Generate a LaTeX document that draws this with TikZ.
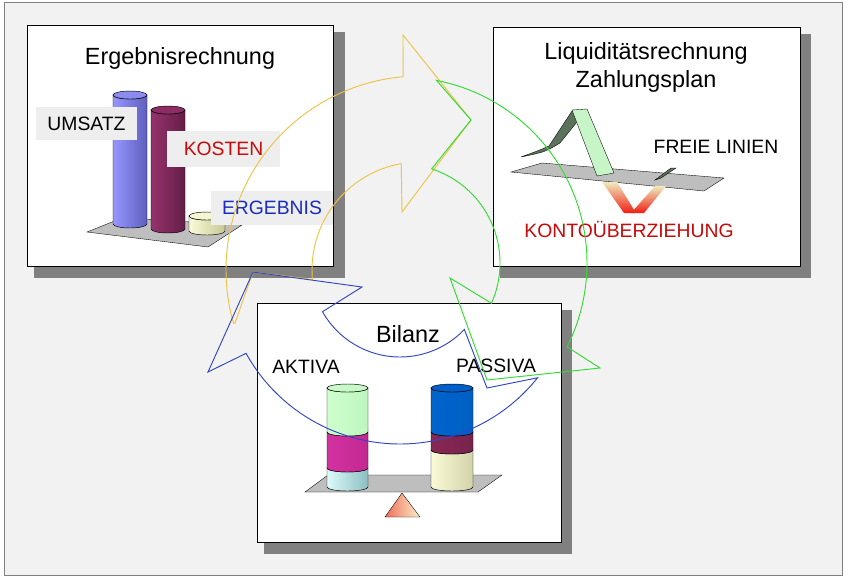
\documentclass[tikz,border=0pt]{standalone}
\usepackage{fontspec}
\setmainfont{Liberation Sans}
\definecolor{bg}{RGB}{242,242,242}
\definecolor{shad}{RGB}{128,128,128}
\definecolor{lbl}{RGB}{238,238,238}
\definecolor{kred}{RGB}{200,10,10}
\definecolor{eblue}{RGB}{25,45,190}
\definecolor{ayel}{RGB}{238,195,70}
\definecolor{agrn}{RGB}{50,220,50}
\definecolor{ablu}{RGB}{50,70,195}
\definecolor{floor}{RGB}{190,190,190}
\definecolor{c1l}{RGB}{150,150,255}\definecolor{c1r}{RGB}{95,95,190}\definecolor{c1t}{RGB}{140,140,240}
\definecolor{c2l}{RGB}{150,50,110}\definecolor{c2r}{RGB}{100,30,70}\definecolor{c2t}{RGB}{140,45,100}
\definecolor{c3l}{RGB}{250,250,215}\definecolor{c3r}{RGB}{200,200,150}\definecolor{c3t}{RGB}{245,245,210}
\definecolor{dgrn}{RGB}{90,115,90}\definecolor{lgrn}{RGB}{200,245,200}
\definecolor{vtop}{RGB}{240,235,190}\definecolor{vbot}{RGB}{240,30,20}
\definecolor{fl}{RGB}{240,110,90}\definecolor{fr}{RGB}{250,240,200}
\definecolor{a1l}{RGB}{220,250,250}\definecolor{a1r}{RGB}{140,190,195}
\definecolor{a2l}{RGB}{210,50,160}\definecolor{a2r}{RGB}{195,40,145}
\definecolor{a3l}{RGB}{205,255,205}\definecolor{a3r}{RGB}{190,245,190}\definecolor{a3t}{RGB}{200,250,200}
\definecolor{p1l}{RGB}{250,250,215}\definecolor{p1r}{RGB}{210,210,170}
\definecolor{p2l}{RGB}{135,40,85}\definecolor{p2r}{RGB}{120,35,75}
\definecolor{p3l}{RGB}{0,100,205}\definecolor{p3r}{RGB}{0,95,195}\definecolor{p3t}{RGB}{0,95,200}
\tikzset{
  panel/.style={draw=black,fill=white,line width=0.6pt},
  shadowbox/.style={fill=shad},
  title/.style={font=\fontsize{20}{24}\selectfont,align=center},
  lab/.style={font=\fontsize{16.5}{20}\selectfont},
  labbg/.style={lab,fill=lbl,inner sep=0pt},
  flr/.style={fill=floor,draw=black,line width=0.3pt},
  cyl/.style={draw=black,line width=0.4pt},
  arr/.style={line width=0.8pt,line join=miter},
}
\newcommand\cylseg[6]{% x1 x2 ytop ybot leftcolor rightcolor
  \path[cyl,left color=#5,right color=#6] (#1,#3) -- (#1,#4) arc[start angle=180,end angle=0,x radius={(#2-#1)/2},y radius=4] -- (#2,#3) arc[start angle=0,end angle=180,x radius={(#2-#1)/2},y radius=4] -- cycle;}
\newcommand\cyltop[4]{% x1 x2 y color
  \path[cyl,fill=#4] ({(#1+#2)/2},#3) ellipse[x radius={(#2-#1)/2},y radius=4];}
\begin{document}
\begin{tikzpicture}[x=0.03cm,y=-0.03cm]
\useasboundingbox (0,0) rectangle (848,578);
\fill[white] (0,0) rectangle (848,578);
\draw[fill=bg,draw=shad,line width=0.6pt] (4,2) rectangle (842,575);
% panels
\fill[shadowbox] (34,32) rectangle (345,278);
\draw[panel] (27,25) rectangle (333,266);
\fill[shadowbox] (500,34) rectangle (811,278);
\draw[panel] (493,27) rectangle (800,266);
\fill[shadowbox] (264,310) rectangle (572,554);
\draw[panel] (257,303) rectangle (561,542);
% titles
\node[title] (t1) at (180,58) {Ergebnisrechnung};
\node[title] (t2) at (646,67) {Liquiditätsrechnung\\Zahlungsplan};
\node[title] (t3) at (408,334) {Bilanz};
% chart 1
\path[flr] (87,232) -- (122,218) -- (242,225) -- (208,247) -- cycle;
\cylseg{113}{147}{95}{224}{c1l}{c1r}
\cyltop{113}{147}{95}{c1t}
\cylseg{151}{185}{110}{229}{c2l}{c2r}
\cyltop{151}{185}{110}{c2t}
\cylseg{189}{225}{216}{231}{c3l}{c3r}
\cyltop{189}{225}{216}{c3t}
\node[labbg,minimum width=3.03cm,minimum height=0.99cm] (umsatz) at (86.5,123.5) {UMSATZ};
\node[labbg,minimum width=3.39cm,minimum height=1.08cm,text=kred] (kosten) at (223.5,149) {KOSTEN};
\node[labbg,minimum width=3.66cm,minimum height=1.02cm,text=eblue] (ergebnis) at (272,208) {ERGEBNIS};
% chart 2
\path[flr] (511,172) -- (542,163) -- (724,178) -- (704,191) -- cycle;
\path[draw=black,line width=0.3pt,fill=dgrn] (521,157) .. controls (540,150) .. (549,146) -- (572,111) -- (585,112) -- (560,143) .. controls (545,152) .. cycle;
\path[draw=black,line width=0.3pt,fill=lgrn] (572,110) -- (587,109) -- (614,173) -- (597,176) -- cycle;
\path[top color=vtop,bottom color=vbot] (602,182) -- (617,182) -- (636,213) -- (624,213) -- cycle;
\path[top color=vtop,bottom color=vbot] (655,186) -- (666,186) -- (644,213) -- (631,213) -- cycle;
\path[draw=black,line width=0.3pt,fill=dgrn] (655,180) -- (671,168) -- (676,168) -- (661,178) -- cycle;
\node[lab] (freie) at (716,147) {FREIE LINIEN};
\node[lab,text=kred] (konto) at (629,229) {KONTOÜBERZIEHUNG};
% chart 3
\path[flr] (305,492) -- (328,475) -- (502,475) -- (478,492) -- cycle;
\path[draw=black,line width=0.3pt,left color=fl,right color=fr] (385,517) -- (402,493) -- (420,517) -- cycle;
\cylseg{327}{368}{468}{487}{a1l}{a1r}
\cylseg{327}{368}{432}{468}{a2l}{a2r}
\cylseg{327}{368}{388}{432}{a3l}{a3r}
\cyltop{327}{368}{388}{a3t}
\cylseg{431}{473}{450}{487}{p1l}{p1r}
\cylseg{431}{473}{432}{450}{p2l}{p2r}
\cylseg{431}{473}{388}{432}{p3l}{p3r}
\cyltop{431}{473}{388}{p3t}
\node[lab] (aktiva) at (306,367) {AKTIVA};
\node[lab] (passiva) at (496,366) {PASSIVA};
% circular arrows
\draw[arr,ayel] (235,323) -- (253,272) -- ([shift={(420,270)}]175:108)
  arc[start angle=175,end angle=260,radius=108] -- (402,212) -- (471,120) -- (403,35)
  -- ([shift={(420,270)}]265:194) arc[start angle=265,end angle=164,radius=194] -- cycle;
\draw[arr,agrn] ([shift={(401,263)}]281:186) arc[start angle=281,end angle=386.8,radius=186]
  -- (600,368) -- (487,380) -- (450,278) -- ([shift={(401,263)}]384:99)
  arc[start angle=384,end angle=288,radius=99] -- (471,120) -- cycle;
\draw[arr,ablu] (487,388) -- ([shift={(400,268)}]38.6:176) arc[start angle=38.6,end angle=151,radius=176]
  -- (208,372) -- (253,272) -- (362,287) -- ([shift={(400,268)}]150.6:89)
  arc[start angle=150.6,end angle=43.7,radius=89] -- cycle;
\end{tikzpicture}
\end{document}
